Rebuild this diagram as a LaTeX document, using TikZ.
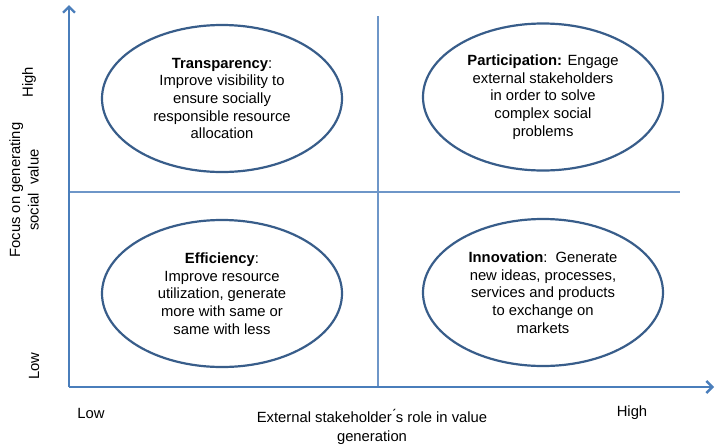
\documentclass[tikz,border=0pt]{standalone}
\usepackage{fontspec}
\setmainfont{Liberation Sans}
\usetikzlibrary{arrows.meta,shapes.geometric,positioning}

\definecolor{axisblue}{RGB}{74,126,187}
\definecolor{gridblue}{RGB}{110,150,200}
\definecolor{rimblue}{RGB}{56,93,138}

\tikzset{
    quad/.style = {ellipse, draw=rimblue, line width=2.2pt, align=center,
                   minimum width=240, minimum height=147, inner sep=0pt,
                   font=\fontsize{14.8}{17.7}\selectfont},
    axislabel/.style = {align=center, font=\fontsize{14.8}{18.5}\selectfont},
    axisline/.style = {draw=axisblue, line width=2.8pt,
                       -{Straight Barb[length=6pt,width=12pt,line width=2.4pt]}},
    gridline/.style = {draw=gridblue, line width=1.5pt}
}

\begin{document}
\begin{tikzpicture}[x=1pt, y=-1pt]
    \useasboundingbox (0,0) rectangle (715,445);

    % axes
    \coordinate (origin) at (69,387);
    \coordinate (ytip) at (69,5);
    \coordinate (xtip) at (714,387);
    \coordinate (vtop) at (378,16);
    \coordinate (vbot) at (378,387);
    \coordinate (hleft) at (69,192);
    \coordinate (hright) at (680,192);

    \draw [gridline] (vtop) -- (vbot);
    \draw [gridline] (hleft) -- (hright);
    \draw [axisline] (origin) -- (ytip);
    \draw [axisline] (origin) -- (xtip);

    % quadrants
    \node [quad] (transp) at (222,98.5)
        {\textbf{Transparency}:\\ Improve visibility to\\ ensure socially\\
         responsible resource\\ allocation};
    \node [quad] (partic) at (543,97)
        {\textbf{Participation:} Engage\\ external stakeholders\\ in order to solve\\
         complex social\\ problems};
    \node [quad] (effic) at (222,293.5)
        {\textbf{Efficiency}:\\ Improve resource\\ utilization, generate\\
         more with same or\\ same with less};
    \node [quad] (innov) at (543,292.5)
        {\textbf{Innovation}:\ \ Generate\\ new ideas, processes,\\ services and products\\
         to exchange on\\ markets};

    % labels
    \node [axislabel, rotate=90] (yhigh) at (29,82) {High};
    \node [axislabel, rotate=90] (ylow) at (34,366) {Low};
    \node [axislabel, rotate=90] (ytitle) at (24,190) {Focus on generating\\ social\ \ value};
    \node [axislabel] (xlow) at (91,413) {Low};
    \node [axislabel] (xhigh) at (632,413) {High};
    \node [axislabel] (xtitle) at (372,427) {External stakeholder\'{}s role in value\\ generation};
\end{tikzpicture}
\end{document}
